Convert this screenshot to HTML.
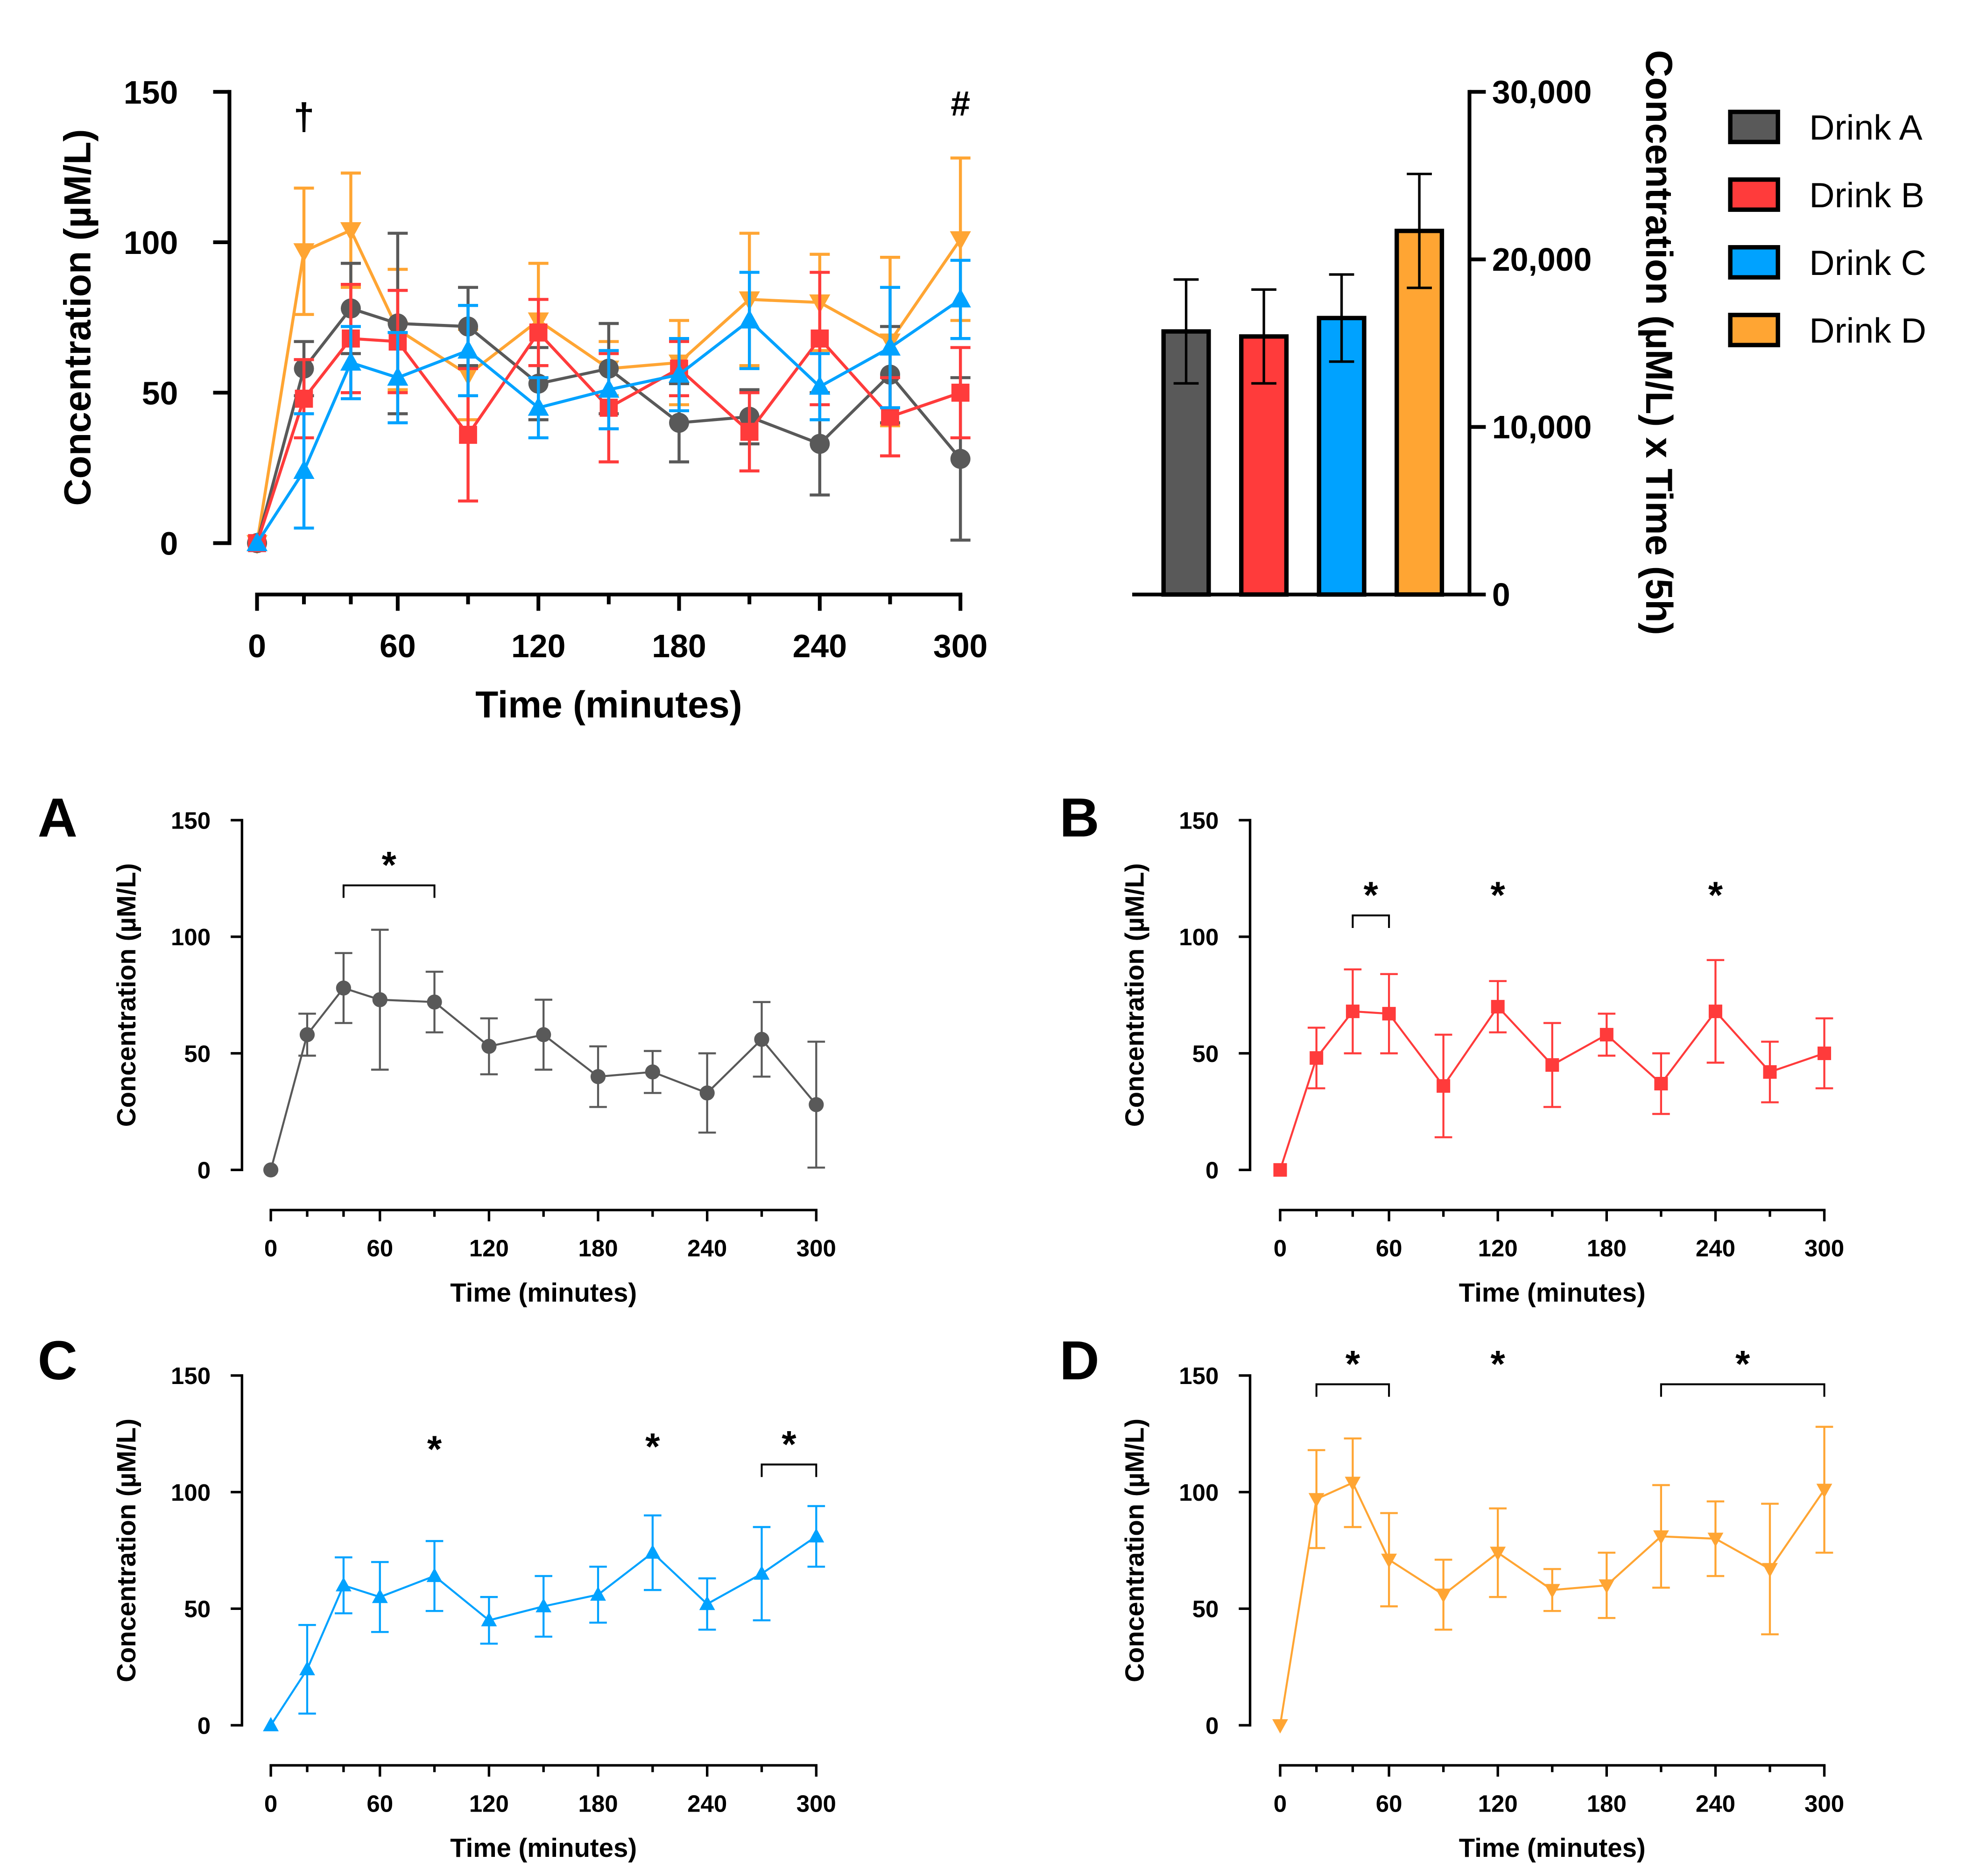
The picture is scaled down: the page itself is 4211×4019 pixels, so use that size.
<!DOCTYPE html>
<html><head><meta charset="utf-8"><style>
html,body{margin:0;padding:0;background:#fff}
svg{display:block}
text{font-family:"Liberation Sans",Arial,sans-serif;font-weight:bold;fill:#000}
text.normal{font-weight:normal}
</style></head><body>
<svg id="fig" width="4211" height="4019" viewBox="0 0 1568 1496" xmlns="http://www.w3.org/2000/svg"></svg>
<script>
const times=[0,20,40,60,90,120,150,180,210,240,270,300];
const meanA=[0,58,78,73,72,53,58,40,42,33,56,28];
const errA=[0,9,15,30,13,12,15,13,9,17,16,27];
const meanB=[0,48,68,67,36,70,45,58,37,68,42,50];
const errB=[0,13,18,17,22,11,18,9,13,22,13,15];
const meanC=[0,24,60,55,64,45,51,56,74,52,65,81];
const errC=[0,19,12,15,15,10,13,12,16,11,20,13];
const meanD=[0,97,104,71,56,74,58,60,81,80,67,101];
const errD=[0,21,19,20,15,19,9,14,22,16,28,27];
const xTicks=[0,60,120,180,240,300];
const yTicks=[0,50,100,150];
const drinks=["Drink A","Drink B","Drink C","Drink D"];
const aucVals=[15700,15400,16500,21700];
const aucErr=[3100,2800,2600,3400];
const aucTicks=[0,10000,20000,30000];
const colors=["#595959","#ff3b3b","#00a2ff","#ffa533"];
const shapes=["circle","square","up","down"];
const means=[meanA,meanB,meanC,meanD];
const errs=[errA,errB,errC,errD];

const svg=document.getElementById('fig');
const NS='http://www.w3.org/2000/svg';
function mk(tag,attrs,parent){const e=document.createElementNS(NS,tag);for(const k in attrs)e.setAttribute(k,attrs[k]);(parent||svg).appendChild(e);return e;}
function txt(s,x,y,size,anchor,parent,extra){const t=mk('text',Object.assign({x:x,y:y,'font-size':size,'text-anchor':anchor||'middle'},extra||{}),parent);t.textContent=s;return t;}
function marker(shape,x,y,r,col,g){
  if(shape==='circle')return mk('circle',{cx:x,cy:y,r:r,fill:col},g);
  if(shape==='square')return mk('rect',{x:x-r*0.9,y:y-r*0.9,width:r*1.8,height:r*1.8,fill:col},g);
  if(shape==='up')return mk('polygon',{points:`${x},${y-r*1.1} ${x-r*1.05},${y+r*0.8} ${x+r*1.05},${y+r*0.8}`,fill:col},g);
  return mk('polygon',{points:`${x},${y+r*1.1} ${x-r*1.05},${y-r*0.8} ${x+r*1.05},${y-r*0.8}`,fill:col},g);
}

function lineChart(cfg){
  const g=mk('g',{});
  
  
  const xs=v=>cfg.x0+(cfg.x1-cfg.x0)*v/300;
  const ys=v=>cfg.y0-(cfg.y0-cfg.y150)*v/150;
  const sw=cfg.sw;
  const ya=mk('line',{x1:cfg.ax,y1:cfg.y0+sw/2,x2:cfg.ax,y2:cfg.y150-sw/2,stroke:'#000','stroke-width':sw},g);
  
  
  yTicks.forEach(v=>{
    mk('line',{x1:cfg.ax-cfg.tl,y1:ys(v),x2:cfg.ax,y2:ys(v),stroke:'#000','stroke-width':sw},g);
    const t=txt(String(v),cfg.ax-cfg.tl-cfg.lg,ys(v)+cfg.fs*0.36,cfg.fs,'end',g);
    
    
  });
  const xa=mk('line',{x1:xs(0)-sw/2,y1:cfg.ay,x2:xs(300)+sw/2,y2:cfg.ay,stroke:'#000','stroke-width':sw},g);
  
  
  times.forEach(v=>{
    const major=xTicks.includes(v);
    mk('line',{x1:xs(v),y1:cfg.ay,x2:xs(v),y2:cfg.ay+(major?cfg.tl:cfg.tl*0.6),stroke:'#000','stroke-width':sw},g);
  });
  xTicks.forEach(v=>{
    const t=txt(String(v),xs(v),cfg.xlY,cfg.fs,'middle',g);
    
    
  });
  const xt=txt('Time (minutes)',(xs(0)+xs(300))/2,cfg.xtY,cfg.tfs,'middle',g);
  
  
  const yt=txt('Concentration (µM/L)',0,0,cfg.tfs,'middle',g,{transform:`translate(${cfg.ytX},${(cfg.y0+cfg.y150)/2}) rotate(-90)`});
  
  
  cfg.series.forEach(i=>{
    const sg=mk('g',{},g);
    
    
    const col=colors[i];
    times.forEach((tm,k)=>{
      const m=means[i][k],e=errs[i][k];
      if(e>0){
        const eb=mk('path',{d:`M${xs(tm)},${ys(m-e)}V${ys(m+e)}M${xs(tm)-cfg.cap},${ys(m+e)}H${xs(tm)+cfg.cap}M${xs(tm)-cfg.cap},${ys(m-e)}H${xs(tm)+cfg.cap}`,stroke:col,'stroke-width':sw*0.8,fill:'none'},sg);
        
        
      }
    });
    const pl=mk('polyline',{points:times.map((tm,k)=>xs(tm)+','+ys(means[i][k])).join(' '),stroke:col,'stroke-width':sw*0.8,fill:'none'},sg);
    
    
    times.forEach((tm,k)=>{
      const mm=marker(shapes[i],xs(tm),ys(means[i][k]),cfg.mr,col,sg);
      
      
    });
  });
  (cfg.sig||[]).forEach(s=>{
    if(s.b){
      const br=mk('path',{d:`M${xs(s.b[0])},${s.y+10}V${s.y}H${xs(s.b[1])}V${s.y+10}`,stroke:'#000','stroke-width':1.5,fill:'none'},g);
      
      
    }
    const st=txt(s.t||'*',xs(s.x),s.ty,s.fs||30,'middle',g);
    
    
  });
  return g;
}

lineChart({name:'main-line-chart',x0:205,x1:766,y0:433,y150:73,ax:183,ay:474,sw:3,tl:13,lg:28,fs:26,tfs:30,xlY:524,xtY:572,ytX:72,cap:8,mr:8,series:[3,0,1,2],
  sig:[{x:20,ty:103,t:'†',fs:30},{x:300,ty:92,t:'#',fs:28}]});

(function(){
  const g=mk('g',{});
  
  
  const y0=474,yT=73;
  const ys=v=>y0-(y0-yT)*v/30000;
  const cx=[946,1008,1070,1132];
  aucVals.forEach((v,i)=>{
    const b=mk('rect',{x:cx[i]-18,y:ys(v),width:36,height:y0-ys(v),fill:colors[i],stroke:'#000','stroke-width':3.5},g);
    
    
    const e=aucErr[i];
    const eb=mk('path',{d:`M${cx[i]},${ys(v-e)}V${ys(v+e)}M${cx[i]-10},${ys(v+e)}H${cx[i]+10}M${cx[i]-10},${ys(v-e)}H${cx[i]+10}`,stroke:'#000','stroke-width':2,fill:'none'},g);
    
    
  });
  const xa=mk('line',{x1:903,y1:y0,x2:1173,y2:y0,stroke:'#000','stroke-width':3},g);
  
  
  const ya=mk('line',{x1:1172,y1:y0+1.5,x2:1172,y2:yT-1.5,stroke:'#000','stroke-width':3},g);
  
  
  aucTicks.forEach(v=>{
    mk('line',{x1:1172,y1:ys(v),x2:1185,y2:ys(v),stroke:'#000','stroke-width':3},g);
    const t=txt(v.toLocaleString('en-US'),1190,ys(v)+9,26,'start',g);
    
    
  });
  const yt=txt('Concentration (µM/L) x Time (5h)',0,0,30,'middle',g,{transform:`translate(1313,273) rotate(90)`});
  
  
})();

(function(){
  const g=mk('g',{});
  
  
  drinks.forEach((d,i)=>{
    const y=101+i*54;
    const e=mk('g',{},g);
    
    
    mk('rect',{x:1380,y:y-12,width:38,height:24,fill:colors[i],stroke:'#000','stroke-width':3.5},e);
    txt(d,1443,y+10,28,'start',e,{'class':'normal'});
  });
})();

const small=[
 {name:'panel-a',s:0,L:'A',lx:30,ly:652,x0:216,x1:651,ax:193,y0:933,sig:[{b:[40,90],y:706,x:65,ty:700}]},
 {name:'panel-b',s:1,L:'B',lx:845,ly:652,x0:1021,x1:1455,ax:997,y0:933,sig:[{b:[40,60],y:730,x:50,ty:724},{x:120,ty:724},{x:240,ty:724}]},
 {name:'panel-c',s:2,L:'C',lx:30,ly:1085,x0:216,x1:651,ax:193,y0:1376,sig:[{x:90,ty:1166},{x:210,ty:1164},{b:[270,300],y:1168,x:285,ty:1162}]},
 {name:'panel-d',s:3,L:'D',lx:845,ly:1085,x0:1021,x1:1455,ax:997,y0:1376,sig:[{b:[20,60],y:1104,x:40,ty:1098},{x:120,ty:1098},{b:[210,300],y:1104,x:255,ty:1098}]}
];
small.forEach(p=>{
  lineChart({name:p.name,x0:p.x0,x1:p.x1,y0:p.y0,y150:p.y0-279,ax:p.ax,ay:p.y0+32,sw:2,tl:9,lg:16,fs:19,tfs:21,xlY:p.y0+69,xtY:p.y0+105,ytX:p.ax-85,cap:7,mr:6,series:[p.s],sig:p.sig});
  const t=txt(p.L,p.lx,p.ly+15,44,'start',svg);
  
  
});
</script>
</body></html>
